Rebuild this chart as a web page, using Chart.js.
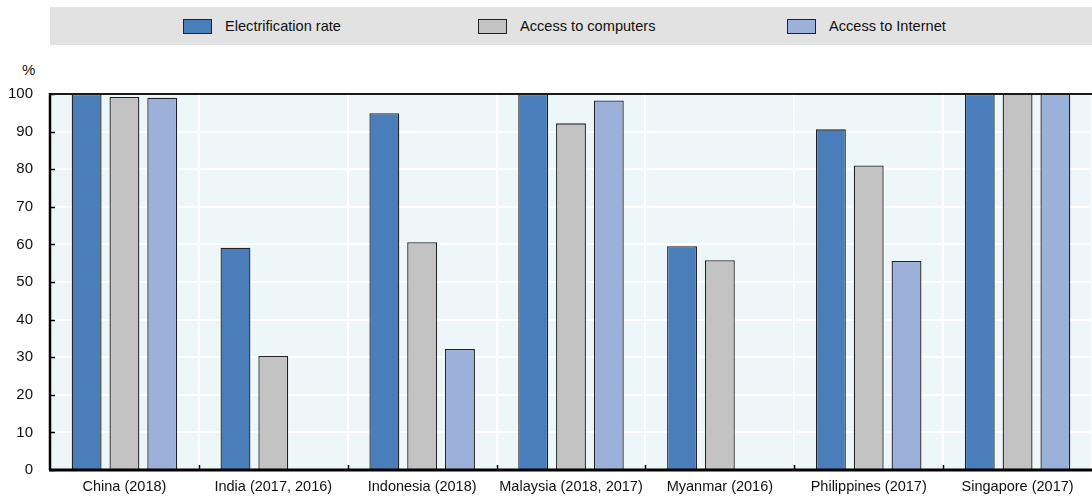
<!DOCTYPE html>
<html>
<head>
<meta charset="utf-8">
<script src="https://cdn.jsdelivr.net/npm/chart.js@4/dist/chart.umd.min.js"></script>
<style>
  html, body { margin: 0; padding: 0; background: #fff; }
  #wrap { position: relative; width: 1092px; height: 498px; overflow: hidden; font-family: "Liberation Sans Narrow", "Arial Narrow", "Liberation Sans", Arial, sans-serif; color: #111; }
  #legend { position: absolute; left: 50px; top: 7px; width: 1042px; height: 38px; background: #e2e2e2; }
  .item { position: absolute; top: 0; height: 38px; display: flex; align-items: center; font-size: 14.6px; }
  .box { width: 27px; height: 13px; border: 1px solid #222; margin-right: 13px; }
  #unit { position: absolute; left: 22px; top: 61px; font-size: 15px; }
  canvas { position: absolute; left: 0; top: 0; }
</style>
</head>
<body>
<div id="wrap">
  <div id="legend">
    <div class="item" style="left:133px"><div class="box" style="background:#4a7ebb"></div>Electrification rate</div>
    <div class="item" style="left:428px"><div class="box" style="background:#c2c3c2"></div>Access to computers</div>
    <div class="item" style="left:737px"><div class="box" style="background:#9bb1da"></div>Access to Internet</div>
  </div>
  <div id="unit">%</div>
  <canvas id="c" width="1092" height="498"></canvas>
</div>
<script>
const categories = ["China (2018)", "India (2017, 2016)", "Indonesia (2018)", "Malaysia (2018, 2017)", "Myanmar (2016)", "Philippines (2017)", "Singapore (2017)"];
const electrification = [100, 59.1, 94.9, 100, 59.5, 90.6, 100];
const computers = [99.2, 30.3, 60.6, 92.2, 55.8, 81.0, 100];
const internet = [99.0, null, 32.2, 98.3, null, 55.6, 100];
const yTicks = [0, 10, 20, 30, 40, 50, 60, 70, 80, 90, 100];
const seriesNames = ["Electrification rate", "Access to computers", "Access to Internet"];

const FONT = "'Liberation Sans Narrow', 'Arial Narrow', 'Liberation Sans', Arial, sans-serif";

const frame = {
  id: 'frame',
  beforeDraw(chart) {
    const { ctx, chartArea: a } = chart;
    ctx.save();
    ctx.fillStyle = '#edf6f8';
    ctx.fillRect(a.left, a.top, a.right - a.left, a.bottom - a.top);
    ctx.restore();
  },
  afterDraw(chart) {
    const { ctx, chartArea: a, scales } = chart;
    ctx.save();
    ctx.strokeStyle = '#000';
    ctx.lineWidth = 1.5;
    yTicks.forEach(v => {
      const y = Math.round(scales.y.getPixelForValue(v)) + 0.5;
      ctx.beginPath(); ctx.moveTo(a.left, y); ctx.lineTo(a.left + 5, y); ctx.stroke();
    });
    const n = categories.length;
    const w = (a.right - a.left) / n;
    for (let i = 1; i < n; i++) {
      const x = Math.round(a.left + i * w) + 0.5;
      ctx.beginPath(); ctx.moveTo(x, a.bottom); ctx.lineTo(x, a.bottom - 5); ctx.stroke();
    }
    ctx.strokeStyle = '#1a1a1a';
    ctx.lineWidth = 2;
    ctx.beginPath(); ctx.moveTo(a.left, a.top); ctx.lineTo(a.right, a.top); ctx.stroke();
    ctx.strokeStyle = '#000';
    ctx.lineWidth = 2.5;
    ctx.beginPath(); ctx.moveTo(a.left, a.top - 1); ctx.lineTo(a.left, a.bottom); ctx.stroke();
    ctx.lineWidth = 3;
    ctx.beginPath(); ctx.moveTo(a.left - 1, a.bottom); ctx.lineTo(a.right, a.bottom); ctx.stroke();
    ctx.restore();
  }
};

const ds = (label, data, color) => ({
  label, data,
  backgroundColor: color,
  borderColor: '#222',
  borderWidth: 1.3,
  borderSkipped: 'bottom',
  categoryPercentage: 0.762,
  barPercentage: 0.79
});

new Chart(document.getElementById('c'), {
  type: 'bar',
  data: {
    labels: categories,
    datasets: [
      ds(seriesNames[0], electrification, '#4a7ebb'),
      ds(seriesNames[1], computers, '#c2c3c2'),
      ds(seriesNames[2], internet, '#9bb1da')
    ]
  },
  options: {
    responsive: false,
    animation: false,
    layout: { padding: { top: 94, left: 0, right: 0, bottom: 0 } },
    plugins: { legend: { display: false }, tooltip: { enabled: false } },
    scales: {
      x: {
        grid: { offset: true, color: '#ffffff', lineWidth: 2, drawTicks: false },
        border: { display: false },
        ticks: { color: '#111', font: { family: FONT, size: 14.5 }, padding: 8, maxRotation: 0, autoSkip: false },
        afterFit(s) { s.height = 28; }
      },
      y: {
        min: 0, max: 100,
        afterBuildTicks(s) { s.ticks = yTicks.map(v => ({ value: v })); },
        grid: { color: '#ffffff', lineWidth: 2, drawTicks: false },
        border: { display: false },
        ticks: { color: '#111', font: { family: FONT, size: 15 }, padding: 17 },
        afterFit(s) { s.width = 50; }
      }
    }
  },
  plugins: [frame]
});
</script>
</body>
</html>
